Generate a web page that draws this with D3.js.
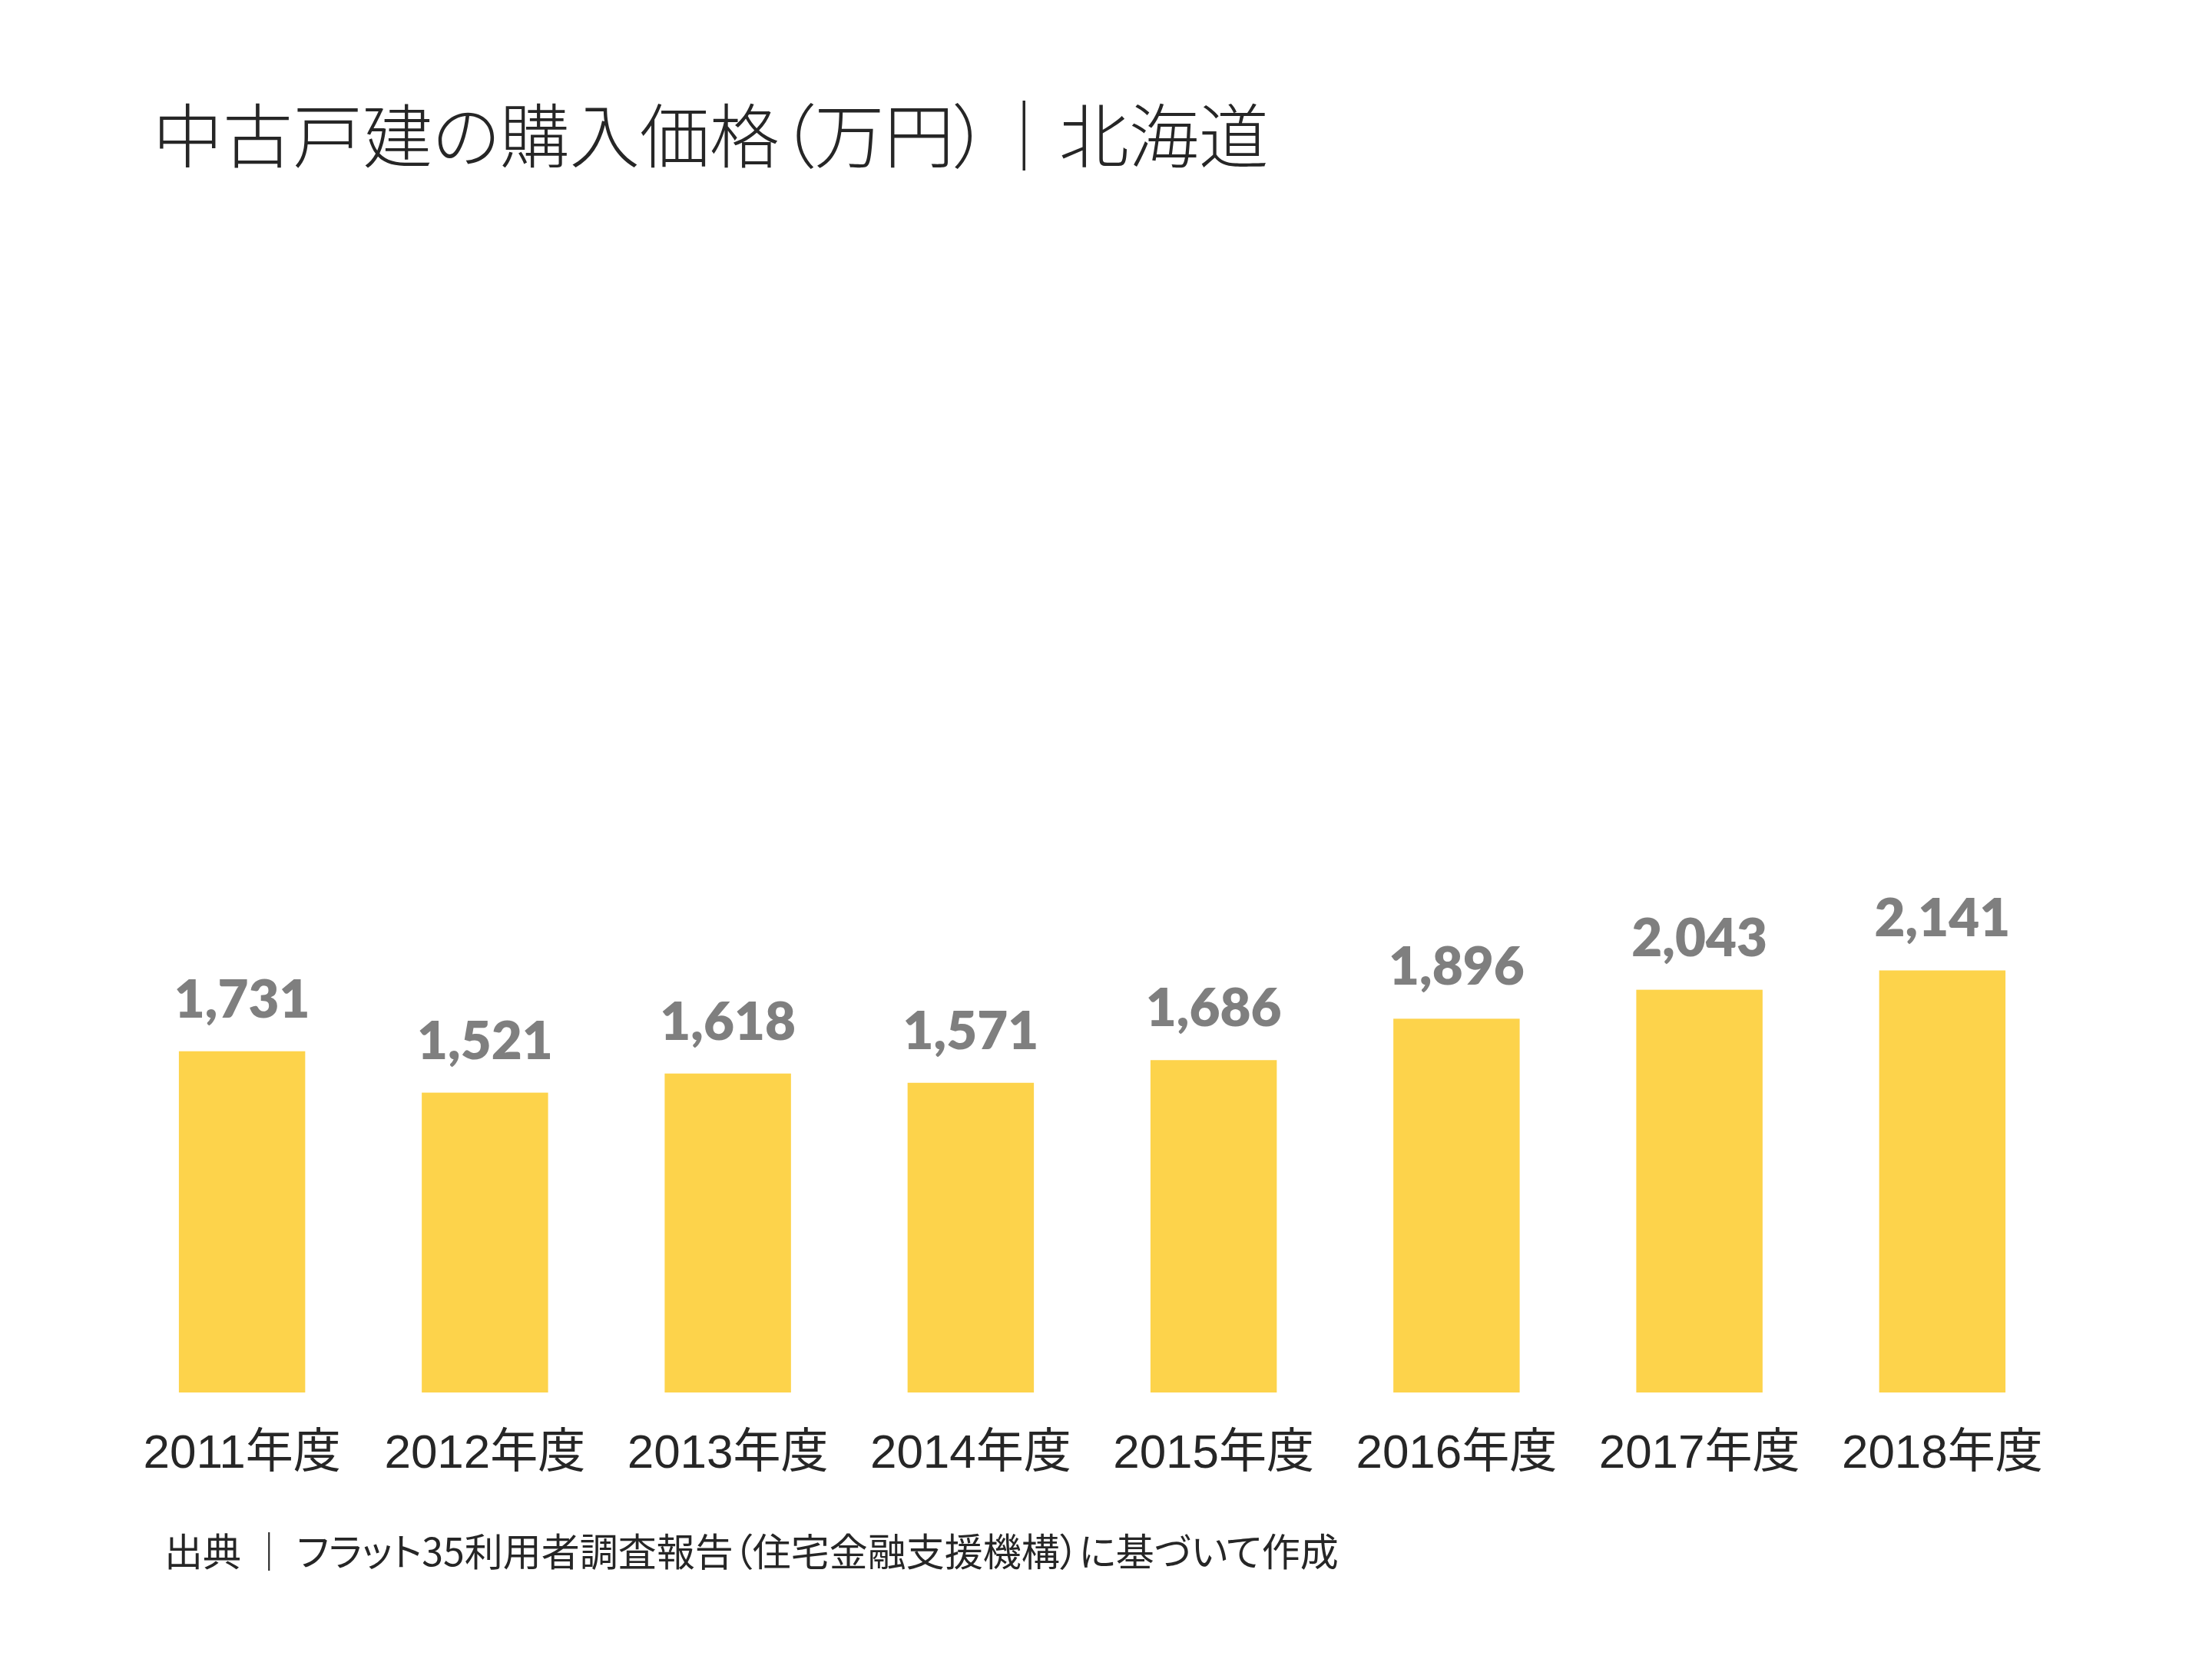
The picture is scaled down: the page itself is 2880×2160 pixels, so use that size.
<!DOCTYPE html>
<html>
<head>
<meta charset="utf-8">
<script src="https://cdn.jsdelivr.net/npm/d3@7"></script>
<style>
  html, body { margin: 0; padding: 0; background: #fff; }
  svg { display: block; }
</style>
</head>
<body>
<svg id="chart"></svg>
<script>
// Chart data
const years = ["2011年度", "2012年度", "2013年度", "2014年度", "2015年度", "2016年度", "2017年度", "2018年度"];
const prices = [1731, 1521, 1618, 1571, 1686, 1896, 2043, 2141];
const titleText = "中古戸建の購入価格（万円）｜北海道";
const sourceText = "出典 ｜ フラット35利用者調査報告（住宅金融支援機構）に基づいて作成";

// SVG configurations
const width = 2880;
const height = 2160;
const plot = { left: 157, right: 2687, top: 273, bottom: 1813 };

const svg = d3.select("#chart")
              .attr("width", width)
              .attr("height", height);

// X scale
const xScale = d3.scaleBand()
                 .domain(years)
                 .range([plot.left, plot.right])
                 .paddingInner(0.48)
                 .paddingOuter(0.24);

// Y scale (axis hidden)
const yScale = d3.scaleLinear()
                 .domain([0, 6000])
                 .range([plot.bottom, plot.top]);

// Title
svg.append("text")
   .attr("x", 199)
   .attr("y", 211)
   .style("font-family", "'Noto Sans CJK JP', sans-serif")
   .style("font-weight", 300)
   .style("font-size", "91px")
   .style("font-feature-settings", "'palt'")
   .style("fill", "#262626")
   .text(titleText);

// Bars
svg.selectAll(".bar")
   .data(prices)
   .join("rect")
     .attr("class", "bar")
     .attr("x", (d, i) => xScale(years[i]))
     .attr("y", d => yScale(d))
     .attr("width", xScale.bandwidth())
     .attr("height", d => yScale(0) - yScale(d))
     .attr("fill", "#FDD34B");

// Value labels
svg.selectAll(".value")
   .data(prices)
   .join("text")
     .attr("class", "value")
     .attr("x", (d, i) => xScale(years[i]) + xScale.bandwidth() / 2)
     .attr("y", d => yScale(d) - 44)
     .style("text-anchor", "middle")
     .style("font-family", "Lato, sans-serif")
     .style("font-weight", 800)
     .style("font-size", "69px")
     .style("fill", "#7F7F7F")
     .text(d => d3.format(",")(d));

// X axis (labels only)
const xAxis = d3.axisBottom(xScale).tickSize(0).tickPadding(0);
const xAxisG = svg.append("g")
                  .attr("transform", `translate(0, ${plot.bottom})`)
                  .call(xAxis);
xAxisG.select(".domain").remove();
xAxisG.selectAll("text")
      .attr("y", 98)
      .attr("dy", null)
      .style("font-family", "'Liberation Sans', Arial, 'Noto Sans CJK JP', sans-serif")
      .style("font-size", "62px")
      .style("fill", "#262626");

// Source note
svg.append("text")
   .attr("x", 214)
   .attr("y", 2039)
   .style("font-family", "'Noto Sans CJK JP', sans-serif")
   .style("font-size", "50px")
   .style("font-feature-settings", "'palt'")
   .style("fill", "#262626")
   .text(sourceText);
</script>
</body>
</html>
